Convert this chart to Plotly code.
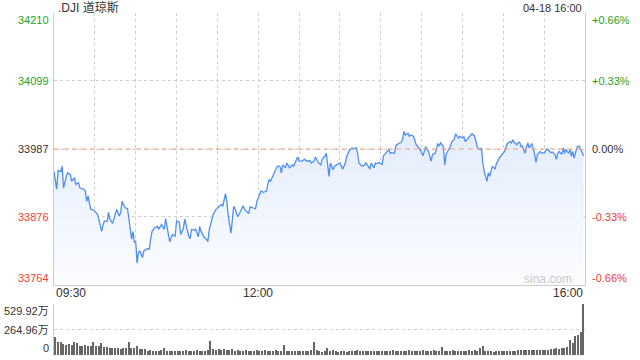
import pandas as pd
import plotly.graph_objects as go

title_text = ".DJI 道琼斯"
stamp_text = "04-18 16:00"
prev_close = 33987
y_ticks = [34210, 34099, 33987, 33876, 33764]
pct_labels = ["+0.66%", "+0.33%", "0.00%", "-0.33%", "-0.66%"]
time_labels = ["09:30", "12:00", "16:00"]
time_label_minutes = [0, 150, 390]
vol_ticks = [529.92, 264.96, 0]
vol_labels = ["529.92万", "264.96万", "0"]
watermark = "sina.com"

# minute offsets from 09:30 and index level
minutes = [
    0, 2, 3, 5, 6, 7, 9, 10, 12, 13, 15, 16, 18, 19, 22, 23, 24, 25, 27, 29,
    32, 33, 35, 36, 37, 39, 40, 41, 43, 44, 46, 48, 49, 50, 52, 54, 55, 57, 58, 59,
    60, 61, 62, 63, 65, 66, 68, 70, 71, 72, 74, 76, 77, 79, 81, 82, 84, 85, 87, 89,
    90, 92, 93, 95, 96, 98, 99, 100, 101, 103, 104, 106, 107, 108, 110, 112, 113, 114, 116, 117,
    119, 121, 123, 124, 126, 127, 128, 130, 132, 133, 135, 136, 139, 140, 143, 144, 146, 148, 149, 151,
    152, 154, 156, 157, 158, 159, 161, 162, 164, 165, 166, 167, 168, 170, 171, 173, 175, 176, 178, 179,
    180, 182, 184, 186, 188, 189, 191, 192, 194, 196, 197, 199, 200, 201, 202, 203, 205, 206, 208, 210,
    212, 214, 215, 217, 219, 220, 222, 223, 224, 226, 228, 229, 231, 232, 233, 235, 236, 237, 239, 241,
    242, 243, 244, 246, 247, 248, 250, 251, 253, 255, 256, 257, 258, 260, 261, 262, 264, 266, 268, 269,
    271, 273, 274, 275, 277, 278, 280, 281, 282, 283, 284, 286, 287, 288, 289, 291, 292, 294, 295, 297,
    298, 300, 301, 302, 304, 305, 307, 309, 310, 311, 313, 314, 315, 316, 318, 319, 320, 321, 322, 324,
    325, 326, 327, 329, 331, 332, 333, 335, 336, 337, 338, 340, 341, 342, 343, 344, 346, 347, 348, 349,
    351, 352, 353, 354, 355, 357, 358, 359, 360, 362, 363, 364, 365, 366, 368, 369, 370, 371, 373, 374,
    375, 376, 378, 379, 380, 381, 382, 384, 385, 386, 387, 389,
]
prices = [
    33950, 33921, 33952, 33950, 33959, 33923, 33942, 33948, 33945, 33934, 33940, 33929, 33932, 33923, 33921, 33918, 33901, 33910, 33888, 33887,
    33880, 33869, 33852, 33862, 33869, 33868, 33883, 33872, 33865, 33872, 33888, 33877, 33883, 33901, 33891, 33889, 33872, 33839, 33852, 33834,
    33836, 33800, 33817, 33820, 33809, 33820, 33823, 33823, 33839, 33852, 33858, 33860, 33856, 33863, 33855, 33873, 33847, 33835, 33847, 33844,
    33869, 33867, 33847, 33856, 33872, 33851, 33844, 33840, 33855, 33854, 33855, 33843, 33860, 33852, 33843, 33839, 33835, 33855, 33874, 33880,
    33888, 33892, 33896, 33894, 33914, 33899, 33877, 33849, 33893, 33889, 33876, 33880, 33894, 33888, 33881, 33892, 33891, 33889, 33901, 33915,
    33918, 33916, 33918, 33929, 33937, 33934, 33945, 33950, 33959, 33959, 33958, 33948, 33961, 33956, 33964, 33956, 33961, 33959, 33970, 33974,
    33967, 33967, 33970, 33967, 33968, 33964, 33967, 33974, 33965, 33961, 33971, 33975, 33980, 33959, 33942, 33964, 33953, 33959, 33961, 33964,
    33954, 33964, 33975, 33985, 33989, 33987, 33989, 33980, 33964, 33959, 33960, 33964, 33958, 33954, 33964, 33956, 33964, 33963, 33965, 33961,
    33976, 33978, 33981, 33986, 33980, 33981, 33980, 33992, 33996, 33998, 34002, 34016, 34010, 34013, 34008, 34010, 34008, 33994, 33989, 33986,
    33976, 33991, 33986, 33983, 33967, 33978, 33980, 33987, 33996, 33992, 33997, 33991, 33961, 33978, 33983, 33990, 33998, 34003, 34012, 34005,
    34008, 34005, 34007, 33999, 34005, 34008, 34012, 34008, 33998, 33989, 33986, 33989, 33964, 33950, 33934, 33948, 33942, 33953, 33959, 33954,
    33964, 33967, 33972, 33978, 33983, 33991, 33996, 33999, 33997, 34002, 33998, 33994, 33998, 33998, 33991, 33992, 33980, 33990, 33997, 33989,
    33996, 33987, 33979, 33965, 33978, 33983, 33980, 33981, 33980, 33987, 33985, 33983, 33981, 33982, 33978, 33970, 33980, 33983, 33978, 33989,
    33980, 33986, 33980, 33986, 33975, 33983, 33972, 33989, 33992, 33991, 33986, 33976,
]

# volume, in 万, one bar per two minutes (bar centred at odd minutes)
vol_minutes = list(range(1, 390, 2))
volumes = [
    190, 138, 130, 114, 104, 110, 104, 138, 128, 94,
    94, 100, 94, 90, 138, 94, 90, 128, 80, 80,
    76, 69, 72, 69, 66, 69, 72, 138, 69, 69,
    94, 59, 62, 59, 45, 48, 45, 42, 45, 48,
    76, 42, 40, 42, 45, 42, 40, 45, 48, 45,
    42, 45, 50, 45, 42, 45, 48, 149, 59, 55,
    59, 52, 62, 55, 52, 59, 45, 48, 42, 45,
    48, 45, 42, 45, 52, 45, 42, 48, 45, 42,
    45, 50, 45, 42, 104, 45, 42, 40, 45, 42,
    40, 45, 42, 45, 48, 138, 52, 40, 35, 38,
    69, 45, 52, 38, 35, 40, 42, 35, 38, 45,
    42, 52, 40, 38, 42, 45, 40, 42, 38, 45,
    42, 40, 45, 42, 48, 42, 45, 40, 42, 45,
    48, 42, 45, 40, 42, 48, 45, 42, 45, 48,
    45, 42, 80, 45, 42, 45, 48, 42, 45, 40,
    45, 42, 48, 45, 52, 45, 69, 94, 42, 38,
    40, 35, 38, 42, 40, 38, 42, 45, 42, 45,
    48, 52, 50, 52, 55, 50, 52, 55, 52, 55,
    55, 52, 58, 62, 69, 66, 72, 69, 80, 156,
    125, 197, 208, 242, 529.92,
]

FONT = "Liberation Sans, Arial, Noto Sans CJK SC, sans-serif"
GREEN = "#1ea51e"
RED = "#f03c3c"
DARK = "#333333"
label_colors = [GREEN, GREEN, DARK, RED, RED]

start = pd.Timestamp("2023-04-18 09:30")
end = start + pd.Timedelta(minutes=390)
t = start + pd.to_timedelta(minutes, unit="min")
tv = start + pd.to_timedelta(vol_minutes, unit="min")

W, H = 640, 360
x_dom = [54 / W, 585 / W]
y_dom = [1 - 285 / H, 1 - 13 / H]
y2_dom = [1 - 355 / H, 1 - 304 / H]
y_lo, y_hi = y_ticks[-1], y_ticks[0]

fig = go.Figure()
fig.add_trace(go.Scatter(x=t, y=[y_lo] * len(t), mode="lines", line=dict(width=0),
                         hoverinfo="skip", showlegend=False, xaxis="x", yaxis="y"))
fig.add_trace(go.Scatter(
    x=t, y=prices, mode="lines", line=dict(color="#4e8ef2", width=1.3),
    fill="tonexty",
    fillgradient=dict(type="vertical",
                      colorscale=[[0, "rgb(251,252,255)"], [1, "rgb(228,237,252)"]],
                      start=y_lo, stop=max(prices)),
    showlegend=False, xaxis="x", yaxis="y"))
fig.add_trace(go.Bar(x=tv, y=volumes, marker=dict(color="#666666", line=dict(width=0)),
                     width=60000, showlegend=False, xaxis="x2", yaxis="y2"))

grid = "#cfcfcf"
fig.update_layout(
    width=W, height=H, margin=dict(l=0, r=0, t=0, b=0),
    paper_bgcolor="white", plot_bgcolor="white",
    font=dict(family=FONT, size=11, color=DARK),
    bargap=0,
    xaxis=dict(domain=x_dom, anchor="y", type="date", range=[start, end],
               tick0=start, dtick=30 * 60 * 1000, showticklabels=False, ticks="",
               showgrid=True, gridcolor=grid, griddash="dot", gridwidth=1,
               showline=True, linecolor="#cccccc", linewidth=1, zeroline=False),
    yaxis=dict(domain=y_dom, anchor="x", range=[y_lo, y_hi],
               tickvals=y_ticks[1:4], showticklabels=False, ticks="",
               showgrid=True, gridcolor=grid, griddash="dot", gridwidth=1,
               showline=True, mirror=True, linecolor="#cccccc", linewidth=1, zeroline=False),
    xaxis2=dict(domain=x_dom, anchor="y2", type="date", range=[start, end],
                showticklabels=False, ticks="", showgrid=False,
                showline=False, zeroline=False),
    yaxis2=dict(domain=y2_dom, anchor="x2", range=[0, vol_ticks[0]],
                tickvals=vol_ticks[:2], showticklabels=False, ticks="",
                showgrid=True, gridcolor=grid, griddash="dot", gridwidth=1,
                showline=True, linecolor="#cccccc", linewidth=1, zeroline=False),
)

fig.add_shape(type="line", xref="x", yref="y", x0=start, x1=end, y0=prev_close, y1=prev_close,
              line=dict(color="#f4a07a", width=1, dash="5px,4px"), layer="above")

ann = []
n = len(y_ticks)
for i, (v, p, c) in enumerate(zip(y_ticks, pct_labels, label_colors)):
    shift = -7 if i == 0 else (7 if i == n - 1 else 0)
    ann.append(dict(xref="paper", yref="y", x=51 / W, y=v, text=str(v), xanchor="right",
                    yanchor="middle", showarrow=False, yshift=shift,
                    font=dict(color=c, size=11, family=FONT)))
    ann.append(dict(xref="paper", yref="y", x=590 / W, y=v, text=p, xanchor="left",
                    yanchor="middle", showarrow=False, yshift=shift,
                    font=dict(color=c, size=11, family=FONT)))

anchors = ["left", "center", "right"]
for lab, m, a in zip(time_labels, time_label_minutes, anchors):
    ann.append(dict(xref="x", yref="paper", x=start + pd.Timedelta(minutes=m), y=1 - 293 / H,
                    text=lab, xanchor=a, yanchor="middle", showarrow=False,
                    font=dict(color=DARK, size=12, family=FONT)))

for i, (v, lab) in enumerate(zip(vol_ticks, vol_labels)):
    shift = -7 if i == 0 else (7 if i == len(vol_ticks) - 1 else 0)
    ann.append(dict(xref="paper", yref="y2", x=51 / W, y=v, text=lab, xanchor="right",
                    yanchor="middle", showarrow=False, yshift=shift,
                    font=dict(color=DARK, size=11, family=FONT)))

ann.append(dict(xref="paper", yref="paper", x=56 / W, y=1 - 7.5 / H, text=title_text,
                xanchor="left", yanchor="middle", showarrow=False,
                font=dict(color=DARK, size=12, family=FONT)))
ann.append(dict(xref="paper", yref="paper", x=584 / W, y=1 - 7.5 / H, text=stamp_text,
                xanchor="right", yanchor="middle", showarrow=False,
                font=dict(color=DARK, size=11, family=FONT)))
ann.append(dict(xref="paper", yref="paper", x=574 / W, y=1 - 279 / H, text=watermark,
                xanchor="right", yanchor="middle", showarrow=False,
                font=dict(color="#c8c8c8", size=12, family=FONT)))
fig.update_layout(annotations=ann)

fig.write_html("out.html")
